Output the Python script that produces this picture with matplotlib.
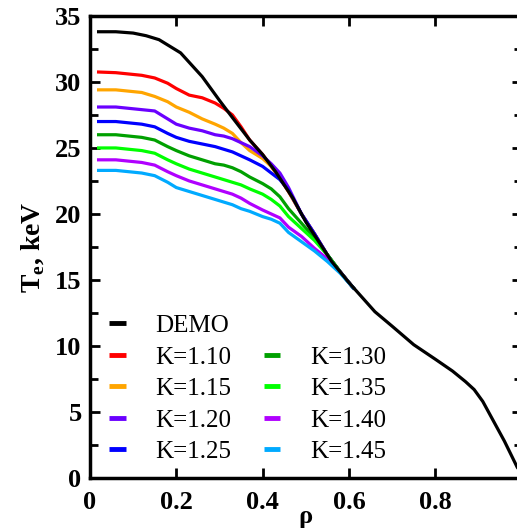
import numpy as np
import matplotlib
matplotlib.use('Agg')
import matplotlib.pyplot as plt
from matplotlib.lines import Line2D
from matplotlib.ticker import MultipleLocator

plt.rcParams['font.family'] = ['Liberation Serif', 'DejaVu Serif']
plt.rcParams['mathtext.fontset'] = 'custom'
plt.rcParams['mathtext.rm'] = 'Liberation Serif'
plt.rcParams['mathtext.bf'] = 'Liberation Serif:bold'

# Electron temperature profiles, Te (keV) vs normalised radius rho
rho_demo = [0.02, 0.06, 0.10, 0.13, 0.16, 0.19, 0.21, 0.26, 0.30, 0.33, 0.37,
            0.40, 0.43, 0.47, 0.50, 0.53, 0.56, 0.60, 0.63, 0.66, 0.70, 0.75,
            0.80, 0.84, 0.87, 0.89, 0.91, 0.93, 0.96, 0.99, 1.00]
te_demo = [33.8, 33.8, 33.7, 33.5, 33.2, 32.6, 32.2, 30.4, 28.6, 27.3, 25.6,
           24.5, 23.2, 21.2, 19.4, 17.9, 16.4, 14.8, 13.7, 12.6, 11.5, 10.1,
           9.0, 8.1, 7.3, 6.7, 5.8, 4.6, 2.8, 0.8, 0.4]

rho_k = [0.02, 0.06, 0.09, 0.12, 0.15, 0.18, 0.20, 0.23, 0.26, 0.29, 0.31,
         0.33, 0.35, 0.37, 0.40, 0.42, 0.44, 0.46, 0.49, 0.52, 0.55, 0.58,
         0.61]
te_k110 = [30.75, 30.7, 30.6, 30.5, 30.3, 29.9, 29.5, 29.0, 28.8, 28.4, 28.0,
           27.5, 26.6, 25.6, 24.5, 23.6, 22.7, 21.7, 20.0, 18.5, 16.9, 15.6,
           14.4]
te_k115 = [29.4, 29.4, 29.3, 29.2, 28.9, 28.5, 28.1, 27.7, 27.2, 26.8, 26.5,
           26.1, 25.4, 24.8, 24.2, 23.6, 22.7, 21.7, 20.0, 18.5, 16.9, 15.6,
           14.4]
te_k120 = [28.1, 28.1, 28.0, 27.9, 27.8, 27.2, 26.8, 26.5, 26.3, 26.0, 25.9,
           25.7, 25.4, 25.1, 24.4, 23.8, 23.1, 22.0, 20.0, 18.5, 16.9, 15.6,
           14.4]
te_k125 = [27.0, 27.0, 26.9, 26.8, 26.6, 26.1, 25.8, 25.5, 25.3, 25.1, 24.9,
           24.7, 24.4, 24.1, 23.6, 23.1, 22.6, 21.8, 20.0, 18.5, 16.9, 15.6,
           14.4]
te_k130 = [26.0, 26.0, 25.9, 25.8, 25.6, 25.1, 24.8, 24.4, 24.1, 23.8, 23.7,
           23.5, 23.2, 22.8, 22.3, 21.9, 21.3, 20.4, 19.3, 18.2, 16.9, 15.6,
           14.4]
te_k135 = [25.0, 25.0, 24.9, 24.8, 24.6, 24.1, 23.8, 23.4, 23.1, 22.8, 22.6,
           22.4, 22.2, 21.9, 21.5, 21.1, 20.6, 19.8, 18.9, 18.0, 16.9, 15.6,
           14.4]
te_k140 = [24.1, 24.1, 24.0, 23.9, 23.7, 23.2, 22.9, 22.5, 22.2, 21.9, 21.7,
           21.5, 21.2, 20.8, 20.3, 20.0, 19.7, 19.0, 18.3, 17.4, 16.6, 15.6,
           14.4]
te_k145 = [23.3, 23.3, 23.2, 23.1, 22.9, 22.4, 22.0, 21.7, 21.4, 21.1, 20.9,
           20.7, 20.4, 20.2, 19.8, 19.6, 19.3, 18.6, 17.9, 17.2, 16.4, 15.5,
           14.4]

k_labels = ['K=1.10', 'K=1.15', 'K=1.20', 'K=1.25',
            'K=1.30', 'K=1.35', 'K=1.40', 'K=1.45']
k_series = [te_k110, te_k115, te_k120, te_k125,
            te_k130, te_k135, te_k140, te_k145]
k_colors = ['#ff0000', '#ffa500', '#6a00ff', '#0000ff',
            '#00a000', '#00ff00', '#b000ff', '#00aaff']

fig = plt.figure(figsize=(5.17, 5.30), dpi=100)
ax = fig.add_axes([0.174, 0.098, 0.835, 0.872])

lw = 2.3
k_lines = []
for te, lab, col in zip(k_series, k_labels, k_colors):
    ln, = ax.plot(rho_k, te, color=col, lw=lw, label=lab)
    k_lines.append(ln)
demo_line, = ax.plot(rho_demo, te_demo, color='black', lw=lw, label='DEMO')

ax.set_xlim(0, 1)
ax.set_ylim(0, 35)
ax.yaxis.set_major_locator(MultipleLocator(5))
ax.yaxis.set_minor_locator(MultipleLocator(2.5))
ax.set_xticks([0, 0.2, 0.4, 0.6, 0.8, 1.0])
ax.set_xticklabels(['0', '0.2', '0.4', '0.6', '0.8', '1'])

ax.tick_params(which='both', direction='in', top=True, right=True,
               width=2.0, labelsize=19)
ax.tick_params(which='major', length=7.5)
ax.tick_params(which='minor', length=5.5)
ax.tick_params(axis='x', pad=9)
ax.tick_params(axis='y', pad=6)
for lbl in ax.get_xticklabels() + ax.get_yticklabels():
    lbl.set_fontweight('bold')
for sp in ax.spines.values():
    sp.set_linewidth(2.5)

ax.set_ylabel(r'T$_\mathbf{e}$, keV', fontsize=20, fontweight='bold', labelpad=6)
ax.set_xlabel(r'ρ', fontsize=19, fontweight='bold', labelpad=-6)

# two-column legend, the second column starts one row lower
blank = Line2D([], [], color='none')
handles = [demo_line] + k_lines[:4] + [blank] + k_lines[4:]
labels = ['DEMO'] + k_labels[:4] + [''] + k_labels[4:]
leg = ax.legend(handles, labels, ncol=2, loc='lower left',
                bbox_to_anchor=(0.01, 0.0), frameon=False, fontsize=18,
                handlelength=0.65, handletextpad=1.2, columnspacing=1.3,
                labelspacing=0.36, borderaxespad=0.2)
for h in leg.get_lines():
    h.set_linewidth(3.5)
    h.set_solid_capstyle('butt')

fig.savefig('out.png', dpi=100)
